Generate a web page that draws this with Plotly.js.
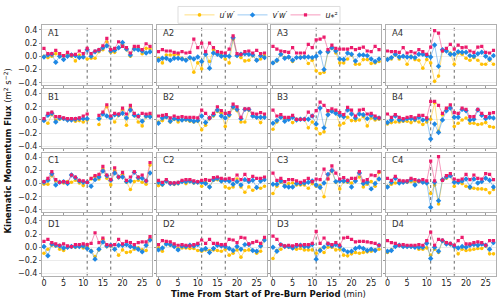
<!DOCTYPE html>
<html><head><meta charset="utf-8">
<script src="https://cdn.plot.ly/plotly-3.0.1.min.js"></script>
<style>html,body{margin:0;padding:0;background:#fff}#chart{width:500px;height:298px}</style>
</head><body><div id="chart"></div>
<script>
const time = [0,1,2,3,4,5,6,7,8,9,10,11,12,13,14,15,16,17,18,19,20,21,22,23,24,25,26,27];
const panelNames = ['A1','A2','A3','A4','B1','B2','B3','B4','C1','C2','C3','C4','D1','D2','D3','D4'];
const seriesNames = ['<i>u′w′</i>','<i>v′w′</i>','<i>u</i>⁎²'];
const burnLines = [11, 17];
const yTickVals = [-0.4,-0.2,0,0.2,0.4];
const yTickText = ['−0.4','−0.2','0.0','0.2','0.4'];
const xTickVals = [0,5,10,15,20,25];

const uwA1 = [0.00,-0.02,0.00,0.04,0.02,0.00,0.03,0.00,-0.07,0.02,-0.01,-0.04,-0.03,-0.03,0.07,0.10,0.22,0.06,0.06,0.13,0.18,0.10,0.00,0.13,0.12,0.04,0.12,0.11];
const vwA1 = [-0.01,0.02,0.03,-0.09,0.00,-0.05,0.00,0.02,0.01,-0.02,-0.01,0.10,0.00,0.07,0.09,0.13,0.16,0.08,0.09,0.13,0.21,0.11,0.02,0.11,0.10,0.08,0.05,0.07];
const usA1 = [0.12,0.04,0.04,0.09,0.04,0.01,0.06,0.02,0.03,0.08,0.04,0.12,0.04,0.08,0.10,0.16,0.27,0.10,0.12,0.22,0.15,0.13,0.05,0.15,0.15,0.10,0.19,0.15];

const uwA2 = [-0.03,-0.10,0.02,0.02,0.02,0.03,-0.03,-0.05,-0.03,-0.24,-0.10,-0.19,0.04,-0.08,0.10,0.04,0.02,-0.04,-0.10,0.26,0.01,-0.02,-0.07,-0.06,0.01,-0.06,-0.04,0.01];
const vwA2 = [-0.06,-0.03,-0.03,-0.06,-0.03,-0.03,-0.04,-0.06,-0.02,-0.04,-0.01,-0.08,0.03,-0.18,0.05,0.03,0.00,0.01,0.00,0.28,0.01,0.03,0.04,0.03,0.02,-0.06,0.01,-0.02];
const usA2 = [0.07,0.10,0.08,0.08,0.06,0.05,0.07,0.05,0.06,0.26,0.13,0.20,0.07,0.20,0.13,0.07,0.06,0.05,0.11,0.31,0.04,0.03,0.07,0.08,0.05,0.09,0.04,0.05];

const uwA3 = [-0.10,-0.07,0.03,-0.02,-0.02,-0.08,-0.02,-0.01,-0.01,-0.11,-0.06,-0.22,-0.26,-0.24,0.06,0.12,0.05,-0.10,-0.10,-0.04,0.02,-0.12,-0.12,-0.05,-0.05,-0.11,-0.10,-0.08];
const vwA3 = [-0.10,-0.06,0.03,-0.03,-0.01,-0.06,-0.02,-0.02,-0.01,-0.01,-0.02,0.00,0.06,-0.20,0.07,0.13,0.08,-0.04,-0.05,0.05,0.03,-0.07,0.02,0.02,0.01,-0.04,-0.08,-0.04];
const usA3 = [0.15,0.11,0.08,0.07,0.06,0.13,0.05,0.05,0.05,0.18,0.13,0.25,0.26,0.29,0.10,0.17,0.12,0.11,0.11,0.11,0.13,0.10,0.12,0.14,0.08,0.07,0.15,0.10];

const uwA4 = [-0.04,-0.04,0.02,-0.04,0.00,-0.12,0.00,-0.05,-0.06,-0.18,-0.05,-0.10,-0.38,-0.30,0.08,0.10,0.05,-0.12,0.05,0.03,-0.03,-0.06,-0.02,-0.06,-0.12,-0.12,-0.06,-0.12];
const vwA4 = [-0.05,-0.02,0.03,-0.01,0.00,-0.01,-0.01,-0.02,0.03,0.03,0.01,-0.01,0.17,-0.15,0.10,0.08,0.03,0.03,0.07,0.06,0.06,0.01,0.00,0.04,0.06,0.00,-0.04,0.01];
const usA4 = [0.08,0.07,0.07,0.06,0.13,0.05,0.07,0.05,0.10,0.07,0.03,0.14,0.39,0.35,0.08,0.12,0.18,0.11,0.17,0.13,0.14,0.08,0.06,0.14,0.15,0.06,0.05,0.09];

const uwB1 = [0.00,-0.05,0.08,0.00,0.01,0.02,0.00,0.01,-0.02,-0.01,-0.03,0.00,null,null,-0.07,0.10,0.20,0.04,-0.03,0.07,0.16,-0.08,0.18,0.07,-0.03,-0.09,0.05,0.07];
const vwB1 = [-0.01,0.07,0.10,-0.03,0.03,0.02,0.00,0.00,0.01,0.02,0.02,0.02,null,null,0.02,0.09,0.06,0.03,0.08,0.08,0.10,0.03,0.15,0.07,0.06,-0.02,0.06,0.05];
const usB1 = [0.02,0.10,0.12,0.05,0.05,0.03,0.02,0.02,0.02,0.03,0.06,0.09,null,null,0.07,0.12,0.23,0.06,0.10,0.09,0.18,0.09,0.22,0.10,0.05,0.10,0.09,0.10];

const uwB2 = [-0.03,-0.01,0.04,-0.03,0.01,-0.03,0.00,0.00,-0.02,-0.03,-0.02,-0.15,-0.08,0.02,0.06,0.13,0.10,-0.10,0.06,0.18,0.14,-0.03,-0.03,0.15,0.06,0.04,-0.04,0.05];
const vwB2 = [-0.05,0.03,0.05,-0.02,0.02,0.01,0.00,0.01,0.00,-0.02,-0.01,0.06,-0.04,0.03,0.08,0.15,0.06,0.03,0.08,0.20,0.16,0.02,0.16,0.16,0.06,0.04,0.04,0.04];
const usB2 = [0.06,0.07,0.08,0.03,0.06,0.04,0.05,0.04,0.04,0.04,0.03,0.15,0.10,0.03,0.10,0.20,0.14,0.10,0.11,0.24,0.20,0.04,0.17,0.17,0.10,0.09,0.11,0.09];

const uwB3 = [-0.14,-0.03,0.05,0.01,0.02,-0.04,0.01,0.01,0.01,-0.12,-0.03,-0.13,-0.21,-0.18,0.13,0.14,0.12,-0.08,-0.05,0.04,-0.01,-0.01,0.00,0.05,-0.09,0.03,0.00,0.01];
const vwB3 = [-0.05,-0.01,0.04,-0.02,0.01,0.04,0.00,0.01,0.01,0.01,0.06,-0.06,0.18,-0.12,0.08,0.13,0.10,0.07,0.05,0.15,0.09,0.03,0.09,0.08,0.02,0.07,0.03,0.03];
const usB3 = [0.15,0.06,0.08,0.04,0.04,0.07,0.01,0.01,0.01,0.12,0.06,0.14,0.27,0.22,0.14,0.17,0.15,0.11,0.08,0.19,0.15,0.06,0.15,0.16,0.09,0.10,0.06,0.03];

const uwB4 = [-0.06,-0.04,-0.03,-0.03,-0.02,-0.02,-0.04,-0.01,-0.03,-0.07,-0.03,0.01,0.26,-0.17,0.08,0.17,0.20,-0.10,-0.05,0.00,0.03,-0.05,-0.05,-0.07,-0.06,-0.04,-0.10,-0.11];
const vwB4 = [-0.04,0.00,0.06,0.00,0.00,0.02,0.02,0.01,0.04,0.00,0.01,-0.29,-0.06,-0.19,0.00,0.14,0.18,0.04,0.04,0.16,0.14,0.00,0.01,0.15,0.07,0.02,0.04,0.03];
const usB4 = [0.09,0.04,0.08,0.04,0.02,0.04,0.05,0.03,0.07,0.07,0.03,0.28,0.28,0.22,0.10,0.18,0.23,0.11,0.10,0.18,0.16,0.05,0.05,0.16,0.10,0.05,0.10,0.11];

const uwC1 = [-0.01,-0.01,0.12,0.04,0.02,0.01,0.03,0.02,0.05,0.01,-0.03,0.02,0.07,0.11,0.07,0.22,0.08,-0.02,0.20,0.09,0.14,0.02,-0.09,0.03,0.05,0.02,-0.01,0.28];
const vwC1 = [0.02,0.05,0.15,-0.02,0.02,0.03,0.00,0.13,0.09,0.04,0.02,0.02,-0.04,0.06,0.10,0.19,0.12,0.05,0.16,0.10,0.10,0.03,0.04,0.17,0.09,0.08,0.04,0.16];
const usC1 = [0.03,0.08,0.18,0.06,0.02,0.03,0.02,0.13,0.10,0.05,0.04,0.02,0.08,0.12,0.14,0.26,0.13,0.06,0.24,0.10,0.17,0.05,0.10,0.18,0.10,0.13,0.04,0.32];

const uwC2 = [-0.03,-0.02,0.03,0.01,-0.01,0.00,0.03,0.00,0.03,0.01,0.02,-0.04,0.02,-0.05,0.05,0.06,0.04,-0.05,-0.07,-0.05,0.07,-0.05,-0.13,-0.05,-0.10,-0.06,-0.07,-0.04];
const vwC2 = [0.02,-0.01,0.04,0.00,0.00,0.01,0.03,0.03,0.04,0.02,0.02,0.02,0.00,-0.05,0.06,0.08,0.04,0.05,0.04,-0.01,0.03,-0.02,0.06,0.03,0.05,-0.06,0.04,0.06];
const usC2 = [0.05,0.02,0.06,0.01,0.01,0.02,0.05,0.06,0.06,0.04,0.03,0.05,0.06,0.05,0.09,0.10,0.08,0.07,0.08,0.06,0.13,0.06,0.14,0.06,0.11,0.08,0.08,0.10];

const uwC3 = [-0.15,-0.04,0.02,-0.03,0.00,0.01,-0.02,-0.02,-0.02,-0.07,0.00,-0.04,-0.03,-0.20,0.07,0.19,0.02,-0.08,0.03,0.02,0.01,0.05,0.10,-0.05,-0.01,0.03,-0.04,0.17];
const vwC3 = [-0.01,-0.01,0.04,-0.04,-0.05,-0.05,0.00,0.00,0.01,0.02,0.04,-0.02,-0.06,0.01,0.14,0.20,0.03,0.04,0.04,0.04,-0.05,0.04,0.16,0.00,0.02,-0.08,0.00,0.07];
const usC3 = [0.16,0.05,0.08,0.03,0.06,0.06,0.04,0.02,0.04,0.08,0.03,0.07,0.06,0.22,0.07,0.27,0.16,0.07,0.09,0.05,0.08,0.08,0.18,0.04,0.06,0.13,0.12,0.18];

const uwC4 = [-0.04,-0.01,0.01,0.02,0.03,0.02,0.03,0.03,0.03,0.02,0.01,-0.15,-0.02,-0.31,0.05,0.08,0.13,-0.04,0.02,0.00,-0.04,-0.07,-0.07,-0.08,-0.08,-0.09,-0.14,-0.09];
const vwC4 = [-0.05,0.02,0.08,0.01,0.02,0.03,0.06,-0.02,0.04,0.02,0.01,-0.36,0.02,-0.26,0.06,0.10,0.12,0.02,0.02,0.04,0.07,-0.05,0.07,0.01,0.03,0.08,0.05,-0.05];
const usC4 = [0.08,0.05,0.11,0.05,0.04,0.04,0.08,0.06,0.04,0.06,0.04,0.34,0.04,0.41,0.05,0.12,0.15,0.07,0.05,0.07,0.14,0.06,0.13,0.08,0.07,0.15,0.14,0.06];

const uwD1 = [-0.09,-0.03,0.03,0.02,-0.03,-0.05,0.00,0.01,0.00,0.01,-0.01,0.01,-0.05,-0.14,-0.04,0.12,0.01,0.02,-0.03,-0.12,-0.04,-0.08,-0.07,-0.03,-0.01,-0.04,-0.05,0.13];
const vwD1 = [0.01,-0.13,0.05,0.03,0.02,-0.01,0.00,0.01,0.01,0.01,0.02,-0.02,-0.06,-0.18,-0.03,0.08,0.02,0.03,-0.03,0.03,0.03,0.04,0.01,0.00,-0.03,-0.07,0.03,0.11];
const usD1 = [0.09,0.12,0.07,0.05,0.03,0.05,0.02,0.01,0.04,0.04,0.05,0.04,0.06,0.22,0.07,0.14,0.04,0.03,0.04,0.12,0.05,0.09,0.07,0.04,0.07,0.08,0.08,0.16];

const uwD2 = [-0.01,-0.06,0.06,0.03,0.03,-0.02,-0.01,-0.01,-0.02,-0.02,-0.05,-0.06,-0.04,-0.05,-0.04,-0.05,-0.06,-0.03,-0.12,-0.09,-0.04,-0.15,-0.05,-0.04,-0.05,-0.09,-0.06,0.13];
const vwD2 = [-0.04,-0.01,0.05,0.04,0.01,-0.04,0.02,0.01,0.03,0.02,0.04,-0.04,-0.02,-0.08,-0.02,0.03,0.02,0.01,-0.02,-0.05,0.01,-0.03,0.04,0.04,-0.05,-0.06,0.02,0.11];
const usD2 = [0.04,0.10,0.09,0.08,0.05,0.03,0.04,0.03,0.02,0.04,0.06,0.11,0.06,0.12,0.06,0.06,0.04,0.04,0.12,0.11,0.07,0.15,0.14,0.05,0.07,0.09,0.06,0.15];

const uwD3 = [-0.17,-0.05,-0.03,0.02,0.00,-0.01,-0.03,-0.02,-0.04,-0.04,-0.04,-0.09,-0.03,-0.08,0.00,0.00,-0.04,-0.03,-0.12,-0.13,-0.10,-0.08,-0.09,-0.08,-0.07,-0.06,-0.04,-0.03];
const vwD3 = [0.00,-0.06,0.04,0.01,0.01,-0.01,0.02,0.03,0.01,0.01,0.04,-0.18,-0.05,0.00,0.05,0.02,0.04,0.01,-0.04,-0.07,-0.06,-0.02,0.00,-0.02,-0.05,-0.03,-0.05,0.03];
const usD3 = [0.17,0.12,0.04,0.02,0.03,0.02,0.04,0.03,0.04,0.04,0.06,0.24,0.06,0.14,0.06,0.04,0.07,0.03,0.14,0.15,0.12,0.08,0.09,0.09,0.08,0.07,0.06,0.03];

const uwD4 = [-0.08,-0.04,0.02,0.03,0.01,0.01,0.01,0.01,-0.03,-0.03,-0.01,-0.12,-0.03,-0.08,0.09,0.07,0.04,0.02,-0.10,-0.03,-0.05,-0.04,-0.03,-0.02,-0.02,0.02,-0.10,-0.10];
const vwD4 = [-0.06,-0.05,0.01,0.03,0.01,0.01,0.01,0.00,0.00,0.00,0.06,-0.17,0.00,-0.06,0.10,0.05,0.05,0.01,-0.01,0.01,0.00,0.03,0.04,0.03,0.05,0.03,-0.03,0.07];
const usD4 = [0.10,0.07,0.06,0.03,0.04,0.03,0.03,0.03,0.04,0.03,0.10,0.23,0.03,0.12,0.11,0.07,0.06,0.03,0.10,0.15,0.05,0.05,0.07,0.08,0.07,0.03,0.10,0.10];

const uwData = [uwA1,uwA2,uwA3,uwA4,uwB1,uwB2,uwB3,uwB4,uwC1,uwC2,uwC3,uwC4,uwD1,uwD2,uwD3,uwD4];
const vwData = [vwA1,vwA2,vwA3,vwA4,vwB1,vwB2,vwB3,vwB4,vwC1,vwC2,vwC3,vwC4,vwD1,vwD2,vwD3,vwD4];
const usData = [usA1,usA2,usA3,usA4,usB1,usB2,usB3,usB4,usC1,usC2,usC3,usC4,usD1,usD2,usD3,usD4];

const markerColors = ['#FFC107','#1E88E5','#EC1C6C'];
const lineColors = ['rgba(255,193,7,0.5)','rgba(30,136,229,0.45)','rgba(236,28,108,0.45)'];
const symbols = ['circle','diamond','square'];

const W = 500, H = 298;
const colLeft = [42, 156.5, 271, 385.5], colW = 110;
const rowTop = [22.5, 86.8, 151.1, 215.4], rowH = 60;
const font = 'DejaVu Sans, Arial, sans-serif';

const traces = [], shapes = [], annotations = [];
const layout = {
  width: W, height: H, margin: {l:0,r:0,t:0,b:0},
  paper_bgcolor: '#fff', plot_bgcolor: '#fff',
  font: {family: font, size: 8, color: '#222'},
  showlegend: true,
  legend: {orientation:'h', x:259/W, xanchor:'center', y:1-12/H, yanchor:'middle',
    font:{size:8, family:font, color:'#222'}, borderwidth:0,
    bgcolor:'rgba(0,0,0,0)', itemwidth:30, tracegroupgap:0, valign:'middle',
    entrywidth:8, entrywidthmode:'pixels'}
};

// legend frame
shapes.push({type:'rect', xref:'paper', yref:'paper', x0:178/W, x1:340/W, y0:1-20.5/H, y1:1-3.5/H,
  line:{color:'#dddddd', width:1}, fillcolor:'#ffffff', layer:'below'});

for (let k = 0; k < 16; k++) {
  const r = Math.floor(k/4), c = k % 4;
  const s = k === 0 ? '' : String(k+1);
  const sets = [uwData[k], vwData[k], usData[k]];
  for (let j = 0; j < 3; j++) {
    traces.push({
      type:'scatter', mode:'lines+markers', x: time, y: sets[j],
      xaxis:'x'+s, yaxis:'y'+s, name: seriesNames[j], legendgroup:'g'+j,
      showlegend: k === 0, connectgaps:false,
      line:{color: lineColors[j], width:1},
      marker:{color: markerColors[j], size: j===1?4.2:(j===2?3.2:3.6), symbol: symbols[j], line:{width:0}},
      hoverinfo:'skip'
    });
  }
  layout['xaxis'+s] = {
    domain:[colLeft[c]/W, (colLeft[c]+colW)/W], anchor:'y'+s,
    range:[-0.5,27.5], tickvals:xTickVals, showticklabels: r===3,
    ticks:'outside', ticklen:2, tickcolor:'#999', tickwidth:1, ticklabelstandoff:-2,
    showline:true, mirror:true, linecolor:'#b0b0b0', linewidth:1,
    showgrid:false, zeroline:false, tickfont:{size:8, family:font, color:'#222'}
  };
  layout['yaxis'+s] = {
    domain:[1-(rowTop[r]+rowH)/H, 1-rowTop[r]/H], anchor:'x'+s,
    range:[-0.43,0.47], tickvals:yTickVals, ticktext:yTickText, showticklabels: c===0,
    ticks:'outside', ticklen:2, tickcolor:'#999', tickwidth:1,
    showline:true, mirror:true, linecolor:'#b0b0b0', linewidth:1,
    showgrid:true, gridcolor:'#ebebeb', gridwidth:1, zeroline:false,
    tickfont:{size:8, family:font, color:'#222'}
  };
  burnLines.forEach(v => shapes.push({
    type:'line', xref:'x'+s, yref:'y'+s+' domain', x0:v, x1:v, y0:0, y1:1,
    line:{color:'#666', width:1, dash:'dot'}, layer:'below'
  }));
  annotations.push({
    xref:'x'+s+' domain', yref:'y'+s+' domain', x:0.04, y:0.985,
    xanchor:'left', yanchor:'top', showarrow:false, text: panelNames[k],
    font:{size:8.5, family:font, color:'#333'}
  });
}

annotations.push({
  xref:'paper', yref:'paper', x:268/W, y:1-293.5/H, xanchor:'center', yanchor:'middle',
  showarrow:false, text:'<b>Time From Start of Pre-Burn Period</b> (min)',
  font:{size:8.5, family:font, color:'#111'}
});
annotations.push({
  xref:'paper', yref:'paper', x:8/W, y:1-150/H, xanchor:'center', yanchor:'middle',
  showarrow:false, textangle:-90, text:'<b>Kinematic Momentum Flux</b> (m<sup>2</sup> s<sup>−2</sup>)',
  font:{size:8.5, family:font, color:'#111'}
});

layout.shapes = shapes;
layout.annotations = annotations;

Plotly.newPlot('chart', traces, layout, {displayModeBar:false, staticPlot:true});
</script>
</body></html>
